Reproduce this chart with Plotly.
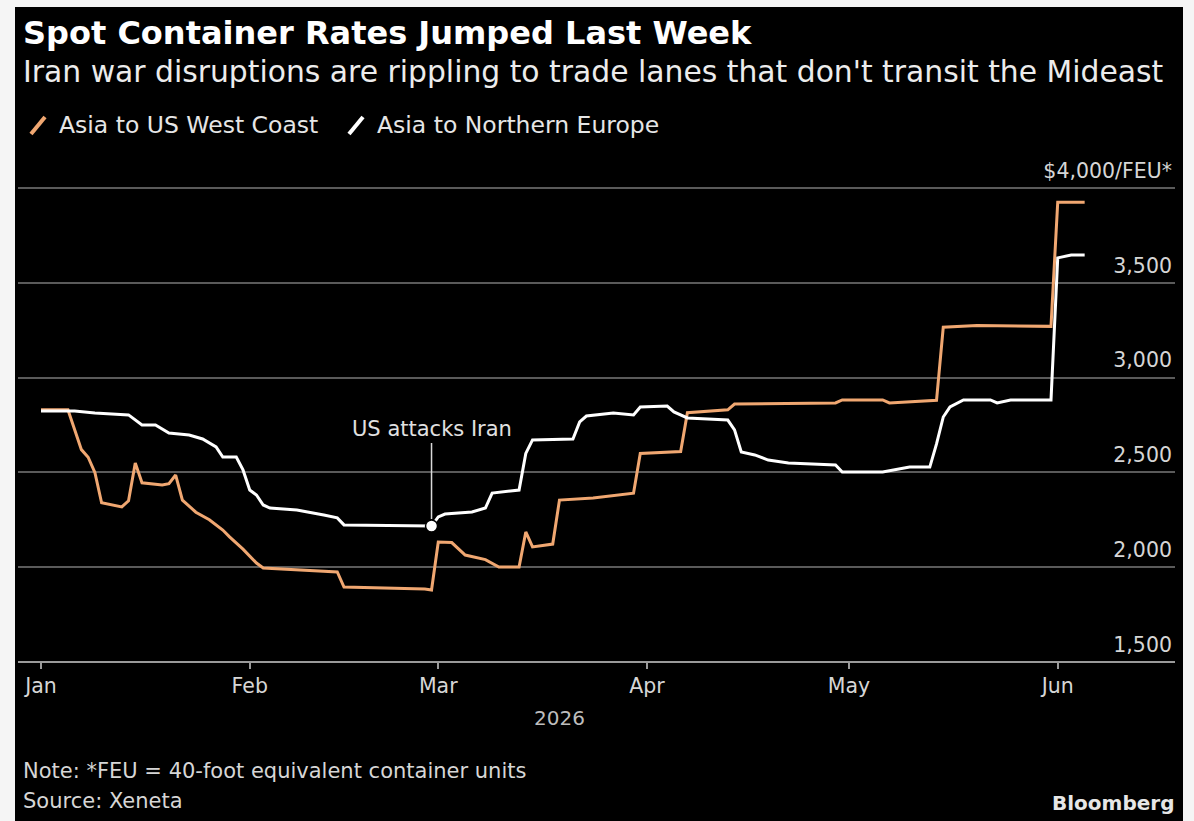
import plotly.graph_objects as go

# --- data -----------------------------------------------------------------
us_west_dates = [
    "2026-01-01", "2026-01-05", "2026-01-07", "2026-01-08", "2026-01-09", "2026-01-10",
    "2026-01-13", "2026-01-14", "2026-01-15", "2026-01-16", "2026-01-19", "2026-01-20",
    "2026-01-21", "2026-01-22", "2026-01-24", "2026-01-26", "2026-01-28", "2026-01-29",
    "2026-01-31", "2026-02-02", "2026-02-03", "2026-02-08", "2026-02-14", "2026-02-15",
    "2026-02-27", "2026-02-28", "2026-03-01", "2026-03-03", "2026-03-05", "2026-03-08",
    "2026-03-10", "2026-03-13", "2026-03-14", "2026-03-15", "2026-03-18", "2026-03-19",
    "2026-03-24", "2026-03-30", "2026-03-31", "2026-04-06", "2026-04-07", "2026-04-13",
    "2026-04-14", "2026-04-29", "2026-04-30", "2026-05-06", "2026-05-07", "2026-05-14",
    "2026-05-15", "2026-05-20", "2026-05-31", "2026-06-01", "2026-06-05",
]
us_west_rates = [
    2830, 2830, 2620, 2580, 2500, 2340,
    2318, 2350, 2550, 2445, 2433, 2440,
    2486, 2354, 2290, 2250, 2196, 2160,
    2095, 2022, 1996, 1985, 1975, 1895,
    1885, 1880, 2133, 2130, 2064, 2040,
    2001, 2001, 2186, 2107, 2122, 2354,
    2365, 2390, 2600, 2610, 2815, 2830,
    2860, 2866, 2882, 2882, 2866, 2880,
    3265, 3275, 3270, 3925, 3925,
]

n_europe_dates = [
    "2026-01-01", "2026-01-06", "2026-01-09", "2026-01-14", "2026-01-16", "2026-01-18",
    "2026-01-20", "2026-01-23", "2026-01-25", "2026-01-27", "2026-01-28", "2026-01-30",
    "2026-01-31", "2026-02-01", "2026-02-02", "2026-02-03", "2026-02-04", "2026-02-08",
    "2026-02-12", "2026-02-14", "2026-02-15", "2026-02-28", "2026-03-01", "2026-03-02",
    "2026-03-06", "2026-03-08", "2026-03-09", "2026-03-13", "2026-03-14", "2026-03-15",
    "2026-03-21", "2026-03-22", "2026-03-23", "2026-03-27", "2026-03-30", "2026-03-31",
    "2026-04-04", "2026-04-05", "2026-04-07", "2026-04-09", "2026-04-13", "2026-04-14",
    "2026-04-15", "2026-04-17", "2026-04-19", "2026-04-22", "2026-04-29", "2026-04-30",
    "2026-05-06", "2026-05-10", "2026-05-13", "2026-05-14", "2026-05-15", "2026-05-16",
    "2026-05-18", "2026-05-22", "2026-05-23", "2026-05-25", "2026-05-31", "2026-06-01",
    "2026-06-03", "2026-06-05",
]
n_europe_rates = [
    2824, 2824, 2813, 2803, 2750, 2750,
    2708, 2697, 2676, 2634, 2581, 2581,
    2513, 2407, 2381, 2328, 2312, 2302,
    2275, 2260, 2223, 2217, 2265, 2280,
    2291, 2312, 2391, 2407, 2600, 2671,
    2676, 2766, 2797, 2813, 2803, 2845,
    2850, 2819, 2787, 2782, 2776, 2724,
    2608, 2592, 2565, 2550, 2539, 2502,
    2502, 2528, 2528, 2650, 2792, 2845,
    2882, 2882, 2866, 2882, 2882, 3631,
    3646, 3646,
]

event_date = "2026-02-28"
event_label = "US attacks Iran"
event_rate = n_europe_rates[n_europe_dates.index(event_date)]

month_ticks = ["2026-01-01", "2026-02-01", "2026-03-01", "2026-04-01", "2026-05-01", "2026-06-01"]
month_labels = ["Jan", "Feb", "Mar", "Apr", "May", "Jun"]

y_ticks = [1500, 2000, 2500, 3000, 3500, 4000]
y_tick_text = ["1,500", "2,000", "2,500", "3,000", "3,500", "$4,000/FEU*"]

# --- styling --------------------------------------------------------------
ORANGE = "#f0a771"
WHITE = "#ffffff"
FONT = "DejaVu Sans"
W, H = 1194, 821
M_L, M_R, M_T, M_B = 18, 19, 150, 159
PLOT_W = W - M_L - M_R
PLOT_H = H - M_T - M_B


def px(x):
    return (x - M_L) / PLOT_W


def py(y):
    return (H - M_B - y) / PLOT_H


fig = go.Figure()

fig.add_trace(go.Scatter(
    x=us_west_dates, y=us_west_rates, mode="lines",
    line=dict(color=ORANGE, width=3), name="Asia to US West Coast",
    showlegend=False, hoverinfo="x+y",
))
fig.add_trace(go.Scatter(
    x=n_europe_dates, y=n_europe_rates, mode="lines",
    line=dict(color=WHITE, width=3), name="Asia to Northern Europe",
    showlegend=False, hoverinfo="x+y",
))
fig.add_trace(go.Scatter(
    x=[event_date], y=[event_rate], mode="markers",
    marker=dict(color=WHITE, size=12, line=dict(color="#000000", width=1.5)),
    showlegend=False, hoverinfo="skip",
))

annotations = [
    dict(text="<b>Spot Container Rates Jumped Last Week</b>", x=px(21), y=py(33),
         font=dict(size=32, color="#ffffff")),
    dict(text="Iran war disruptions are rippling to trade lanes that don't transit the Mideast",
         x=px(21), y=py(71), font=dict(size=29.8, color="#ececec")),
    dict(text="Asia to US West Coast", x=px(57), y=py(125), font=dict(size=23.5, color="#e6e6e6")),
    dict(text="Asia to Northern Europe", x=px(375), y=py(125), font=dict(size=23.5, color="#e6e6e6")),
    dict(text="Note: *FEU = 40-foot equivalent container units", x=px(21), y=py(771),
         font=dict(size=21, color="#d6d6d6")),
    dict(text="Source: Xeneta", x=px(21), y=py(801), font=dict(size=21, color="#d6d6d6")),
    dict(text="<b>Bloomberg</b>", x=px(1176), y=py(803), xanchor="right",
         font=dict(size=20, color="#e6e6e6")),
]
for a in annotations:
    a.setdefault("xanchor", "left")
    a.update(xref="paper", yref="paper", yanchor="middle", showarrow=False,
             font=dict(family=FONT, **a["font"]))

# year label centred under the span of the data
annotations.append(dict(
    text="2026", x="2026-03-19", xref="x", y=py(718), yref="paper",
    showarrow=False, xanchor="center", yanchor="middle",
    font=dict(family=FONT, size=20, color="#bdbdbd"),
))

# event callout
annotations.append(dict(
    text=event_label, x=event_date, y=event_rate, xref="x", yref="y",
    showarrow=True, arrowhead=0, arrowwidth=1.5, arrowcolor="#d9d9d9",
    ax=0, ay=-83, standoff=7, yanchor="bottom",
    font=dict(family=FONT, size=21, color="#e0e0e0"),
))

shapes = [
    # dark card behind the whole graphic
    dict(type="rect", xref="paper", yref="paper", x0=px(15), x1=px(1183),
         y0=py(830), y1=py(7), fillcolor="#000000", line=dict(width=0), layer="below"),
    # legend keys
    dict(type="line", xref="paper", yref="paper", x0=px(31), y0=py(134), x1=px(45), y1=py(117),
         line=dict(color=ORANGE, width=4)),
    dict(type="line", xref="paper", yref="paper", x0=px(349), y0=py(134), x1=px(363), y1=py(117),
         line=dict(color=WHITE, width=4)),
]

fig.update_layout(
    width=W, height=H,
    margin=dict(l=M_L, r=M_R, t=M_T, b=M_B),
    paper_bgcolor="#f5f5f5",
    plot_bgcolor="rgba(0,0,0,0)",
    annotations=annotations,
    shapes=shapes,
    font=dict(family=FONT, color="#d0d0d0"),
    xaxis=dict(
        anchor="free", position=0,
        range=["2025-12-28 14:00", "2026-06-18 10:00"],
        tickmode="array", tickvals=month_ticks, ticktext=month_labels,
        ticklabeloverflow="allow",
        ticks="outside", ticklen=6, tickwidth=1.5, tickcolor="#9a9a9a",
        showline=True, linecolor="#9a9a9a", linewidth=1.5,
        showgrid=False, zeroline=False,
        tickfont=dict(family=FONT, size=20.5, color="#d6d6d6"),
    ),
    yaxis=dict(
        anchor="free", position=1,
        range=[1500, 4200], side="right",
        tickvals=y_ticks, ticktext=y_tick_text,
        ticklabelposition="inside top", ticklabelshift=-3,
        ticklabeloverflow="allow", ticks="",
        showgrid=True, gridcolor="#5a5a5a", gridwidth=1.5,
        zeroline=False, showline=False,
        tickfont=dict(family=FONT, size=20.5, color="#d6d6d6"),
    ),
)

fig.write_html("out.html")
